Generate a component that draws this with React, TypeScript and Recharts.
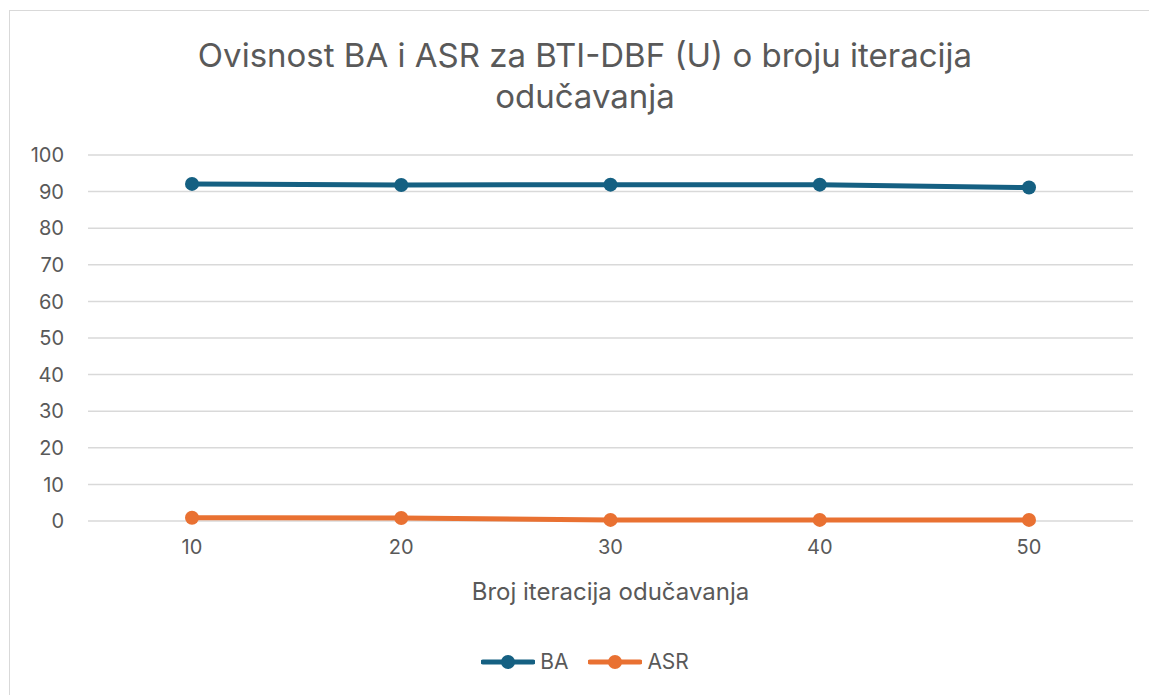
import React from 'react';
import { LineChart, Line, XAxis, YAxis, CartesianGrid, Legend } from 'recharts';

const ITERATIONS = ['10', '20', '30', '40', '50'];
const BA_VALUES = [92.1, 91.8, 91.9, 91.9, 91.1];
const ASR_VALUES = [0.9, 0.8, 0.3, 0.3, 0.3];
const Y_TICKS = [0, 10, 20, 30, 40, 50, 60, 70, 80, 90, 100];

const BA_COLOR = '#156082';
const ASR_COLOR = '#E97132';
const TEXT_COLOR = '#595959';
const FONT = 'Inter, "Open Sans", sans-serif';

const data = ITERATIONS.map((it, i) => ({ it, BA: BA_VALUES[i], ASR: ASR_VALUES[i] }));

const LegendContent = () => {
  const items = [
    { name: 'BA', color: BA_COLOR },
    { name: 'ASR', color: ASR_COLOR },
  ];
  return (
    <div style={{ display: 'flex', justifyContent: 'center', gap: 20, fontFamily: FONT }}>
      {items.map((item) => (
        <div key={item.name} style={{ display: 'flex', alignItems: 'center', gap: 5 }}>
          <svg width={54} height={16}>
            <line x1={2} y1={8} x2={52} y2={8} stroke={item.color} strokeWidth={5} strokeLinecap="round" />
            <circle cx={27} cy={8} r={7} fill={item.color} />
          </svg>
          <span style={{ color: TEXT_COLOR, fontSize: 21 }}>{item.name}</span>
        </div>
      ))}
    </div>
  );
};

export default function App() {
  return (
    <div
      style={{
        position: 'relative',
        marginLeft: 1,
        marginTop: 2,
        borderLeft: '1px solid #d9d9d9',
        borderTop: '1px solid #d9d9d9',
        width: 1150,
        height: 684,
        fontFamily: FONT,
      }}
    >
      <div
        style={{
          position: 'absolute',
          left: 0,
          top: 24,
          width: 1150,
          textAlign: 'center',
          color: TEXT_COLOR,
          fontSize: 33,
          lineHeight: '41px',
        }}
      >
        Ovisnost BA i ASR za BTI-DBF (U) o broju iteracija
        <br />
        odučavanja
      </div>
      <LineChart width={1150} height={684} data={data} margin={{ top: 144, right: 27, bottom: 21, left: 0 }}>
        <CartesianGrid vertical={false} stroke="#d9d9d9" strokeWidth={1.5} />
        <XAxis
          dataKey="it"
          axisLine={false}
          tickLine={false}
          padding={{ left: 104, right: 104 }}
          tick={{ fill: TEXT_COLOR, fontSize: 20 }}
          tickMargin={13}
          height={128}
          label={{ value: 'Broj iteracija odučavanja', position: 'insideTop', offset: 62, fill: TEXT_COLOR, fontSize: 24 }}
        />
        <YAxis
          domain={[0, 100]}
          ticks={Y_TICKS}
          axisLine={false}
          tickLine={false}
          width={78}
          tick={{ fill: TEXT_COLOR, fontSize: 20 }}
          tickMargin={18}
        />
        <Legend verticalAlign="bottom" content={<LegendContent />} wrapperStyle={{ left: 0, width: 1150 }} />
        <Line
          dataKey="BA"
          stroke={BA_COLOR}
          strokeWidth={5}
          dot={{ r: 7, fill: BA_COLOR, stroke: BA_COLOR, strokeWidth: 0 }}
          isAnimationActive={false}
        />
        <Line
          dataKey="ASR"
          stroke={ASR_COLOR}
          strokeWidth={5}
          dot={{ r: 7, fill: ASR_COLOR, stroke: ASR_COLOR, strokeWidth: 0 }}
          isAnimationActive={false}
        />
      </LineChart>
    </div>
  );
}
